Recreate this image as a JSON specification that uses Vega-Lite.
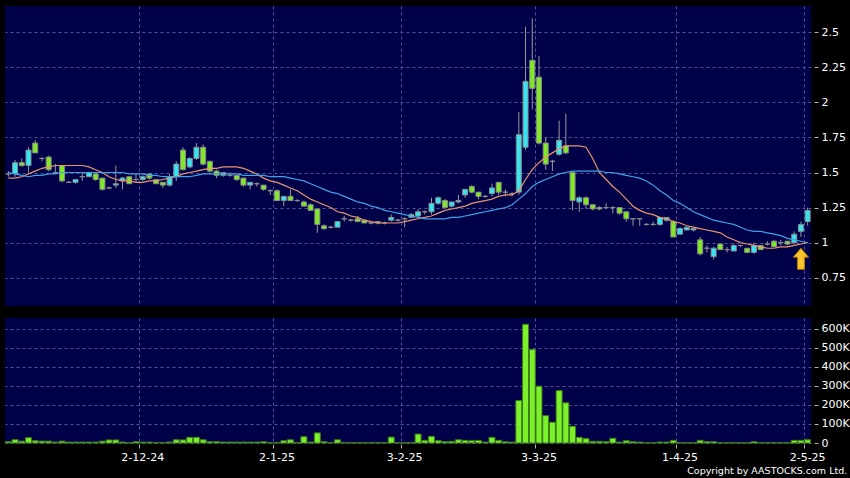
{
 "$schema": "https://vega.github.io/schema/vega-lite/v6.json",
 "background": "#000000",
 "padding": {"left": 4, "top": 6, "right": 2, "bottom": 2},
 "config": {
  "view": {"fill": "#000048", "stroke": null},
  "font": "DejaVu Sans",
  "axis": {"labelFont": "DejaVu Sans", "labelFontSize": 11, "labelColor": "#ffffff", "tickColor": "#b0b0b0", "domain": false, "gridColor": "#545490", "gridDash": [3, 3], "gridWidth": 1, "title": null},
  "concat": {"spacing": 12}
 },
 "title": {"text": "Copyright by AASTOCKS.com Ltd.", "orient": "bottom", "anchor": "end", "color": "#ffffff", "fontSize": 9.5, "fontWeight": "normal", "font": "DejaVu Sans", "offset": 4, "dx": -2},
 "datasets": {
  "k": [
   {"d":"4-11-24","o":1.49,"h":1.51,"l":1.47,"c":1.49,"v":7000,"m1":1.46,"m2":1.50},
   {"d":"5-11-24","o":1.49,"h":1.59,"l":1.47,"c":1.57,"v":17500,"m1":1.46,"m2":1.49},
   {"d":"6-11-24","o":1.57,"h":1.60,"l":1.54,"c":1.55,"v":10000,"m1":1.47,"m2":1.48},
   {"d":"7-11-24","o":1.55,"h":1.68,"l":1.50,"c":1.66,"v":28000,"m1":1.49,"m2":1.47},
   {"d":"8-11-24","o":1.71,"h":1.73,"l":1.64,"c":1.64,"v":12000,"m1":1.51,"m2":1.48},
   {"d":"11-11-24","o":1.60,"h":1.61,"l":1.58,"c":1.60,"v":10000,"m1":1.53,"m2":1.48},
   {"d":"12-11-24","o":1.61,"h":1.62,"l":1.51,"c":1.52,"v":10000,"m1":1.54,"m2":1.49},
   {"d":"13-11-24","o":1.50,"h":1.56,"l":1.49,"c":1.50,"v":5000,"m1":1.55,"m2":1.49},
   {"d":"14-11-24","o":1.55,"h":1.55,"l":1.43,"c":1.44,"v":10000,"m1":1.55,"m2":1.50},
   {"d":"15-11-24","o":1.43,"h":1.44,"l":1.43,"c":1.43,"v":5000,"m1":1.55,"m2":1.50},
   {"d":"18-11-24","o":1.43,"h":1.45,"l":1.42,"c":1.45,"v":5000,"m1":1.55,"m2":1.50},
   {"d":"19-11-24","o":1.47,"h":1.50,"l":1.44,"c":1.47,"v":5000,"m1":1.55,"m2":1.50},
   {"d":"20-11-24","o":1.47,"h":1.50,"l":1.47,"c":1.50,"v":5000,"m1":1.54,"m2":1.50},
   {"d":"21-11-24","o":1.49,"h":1.49,"l":1.44,"c":1.45,"v":5000,"m1":1.52,"m2":1.50},
   {"d":"22-11-24","o":1.46,"h":1.46,"l":1.37,"c":1.38,"v":10000,"m1":1.50,"m2":1.50},
   {"d":"25-11-24","o":1.39,"h":1.40,"l":1.38,"c":1.39,"v":16000,"m1":1.47,"m2":1.50},
   {"d":"26-11-24","o":1.41,"h":1.55,"l":1.39,"c":1.42,"v":16000,"m1":1.45,"m2":1.50},
   {"d":"27-11-24","o":1.44,"h":1.47,"l":1.38,"c":1.46,"v":5000,"m1":1.44,"m2":1.50},
   {"d":"28-11-24","o":1.47,"h":1.47,"l":1.42,"c":1.42,"v":2000,"m1":1.44,"m2":1.49},
   {"d":"29-11-24","o":1.45,"h":1.49,"l":1.43,"c":1.45,"v":7000,"m1":1.43,"m2":1.49},
   {"d":"2-12-24","o":1.45,"h":1.48,"l":1.44,"c":1.47,"v":5000,"m1":1.43,"m2":1.49},
   {"d":"3-12-24","o":1.49,"h":1.49,"l":1.45,"c":1.46,"v":5000,"m1":1.44,"m2":1.48},
   {"d":"4-12-24","o":1.45,"h":1.45,"l":1.42,"c":1.42,"v":3000,"m1":1.44,"m2":1.48},
   {"d":"5-12-24","o":1.43,"h":1.43,"l":1.39,"c":1.41,"v":3000,"m1":1.45,"m2":1.47},
   {"d":"6-12-24","o":1.41,"h":1.49,"l":1.40,"c":1.47,"v":5000,"m1":1.46,"m2":1.47},
   {"d":"9-12-24","o":1.47,"h":1.58,"l":1.44,"c":1.56,"v":17000,"m1":1.47,"m2":1.47},
   {"d":"10-12-24","o":1.66,"h":1.68,"l":1.52,"c":1.52,"v":16000,"m1":1.49,"m2":1.47},
   {"d":"11-12-24","o":1.54,"h":1.61,"l":1.53,"c":1.60,"v":30000,"m1":1.50,"m2":1.47},
   {"d":"12-12-24","o":1.60,"h":1.71,"l":1.59,"c":1.68,"v":30000,"m1":1.51,"m2":1.48},
   {"d":"13-12-24","o":1.68,"h":1.70,"l":1.55,"c":1.56,"v":17000,"m1":1.52,"m2":1.49},
   {"d":"16-12-24","o":1.58,"h":1.58,"l":1.50,"c":1.51,"v":7000,"m1":1.53,"m2":1.49},
   {"d":"17-12-24","o":1.51,"h":1.52,"l":1.46,"c":1.48,"v":7000,"m1":1.53,"m2":1.49},
   {"d":"18-12-24","o":1.48,"h":1.50,"l":1.47,"c":1.50,"v":5000,"m1":1.54,"m2":1.49},
   {"d":"19-12-24","o":1.48,"h":1.50,"l":1.47,"c":1.48,"v":5000,"m1":1.54,"m2":1.49},
   {"d":"20-12-24","o":1.48,"h":1.48,"l":1.44,"c":1.45,"v":5000,"m1":1.54,"m2":1.49},
   {"d":"23-12-24","o":1.46,"h":1.46,"l":1.40,"c":1.41,"v":5000,"m1":1.53,"m2":1.48},
   {"d":"24-12-24","o":1.41,"h":1.43,"l":1.38,"c":1.43,"v":5000,"m1":1.51,"m2":1.48},
   {"d":"27-12-24","o":1.42,"h":1.43,"l":1.40,"c":1.42,"v":5000,"m1":1.49,"m2":1.48},
   {"d":"30-12-24","o":1.41,"h":1.41,"l":1.37,"c":1.38,"v":7000,"m1":1.46,"m2":1.48},
   {"d":"31-12-24","o":1.37,"h":1.38,"l":1.34,"c":1.37,"v":2000,"m1":1.44,"m2":1.47},
   {"d":"2-1-25","o":1.37,"h":1.38,"l":1.30,"c":1.30,"v":3000,"m1":1.43,"m2":1.47},
   {"d":"3-1-25","o":1.30,"h":1.33,"l":1.26,"c":1.33,"v":12000,"m1":1.41,"m2":1.47},
   {"d":"6-1-25","o":1.33,"h":1.38,"l":1.30,"c":1.30,"v":17000,"m1":1.39,"m2":1.46},
   {"d":"7-1-25","o":1.30,"h":1.31,"l":1.29,"c":1.30,"v":3000,"m1":1.37,"m2":1.45},
   {"d":"8-1-25","o":1.29,"h":1.30,"l":1.26,"c":1.26,"v":33000,"m1":1.34,"m2":1.44},
   {"d":"9-1-25","o":1.27,"h":1.28,"l":1.23,"c":1.23,"v":5000,"m1":1.31,"m2":1.42},
   {"d":"10-1-25","o":1.24,"h":1.24,"l":1.07,"c":1.13,"v":53000,"m1":1.29,"m2":1.40},
   {"d":"13-1-25","o":1.12,"h":1.13,"l":1.09,"c":1.10,"v":7000,"m1":1.27,"m2":1.38},
   {"d":"14-1-25","o":1.11,"h":1.12,"l":1.10,"c":1.11,"v":3000,"m1":1.25,"m2":1.36},
   {"d":"15-1-25","o":1.11,"h":1.15,"l":1.11,"c":1.15,"v":17000,"m1":1.22,"m2":1.35},
   {"d":"16-1-25","o":1.17,"h":1.19,"l":1.15,"c":1.17,"v":3000,"m1":1.21,"m2":1.33},
   {"d":"17-1-25","o":1.16,"h":1.17,"l":1.15,"c":1.16,"v":2000,"m1":1.19,"m2":1.31},
   {"d":"20-1-25","o":1.17,"h":1.19,"l":1.15,"c":1.15,"v":3000,"m1":1.18,"m2":1.29},
   {"d":"21-1-25","o":1.16,"h":1.16,"l":1.14,"c":1.14,"v":3000,"m1":1.16,"m2":1.28},
   {"d":"22-1-25","o":1.14,"h":1.15,"l":1.13,"c":1.14,"v":2000,"m1":1.15,"m2":1.26},
   {"d":"23-1-25","o":1.15,"h":1.15,"l":1.13,"c":1.14,"v":3000,"m1":1.14,"m2":1.25},
   {"d":"24-1-25","o":1.14,"h":1.15,"l":1.13,"c":1.14,"v":2000,"m1":1.14,"m2":1.23},
   {"d":"27-1-25","o":1.16,"h":1.20,"l":1.15,"c":1.18,"v":31000,"m1":1.14,"m2":1.22},
   {"d":"28-1-25","o":1.16,"h":1.17,"l":1.15,"c":1.16,"v":2000,"m1":1.14,"m2":1.21},
   {"d":"3-2-25","o":1.17,"h":1.18,"l":1.11,"c":1.17,"v":2000,"m1":1.15,"m2":1.20},
   {"d":"4-2-25","o":1.18,"h":1.21,"l":1.18,"c":1.20,"v":3000,"m1":1.16,"m2":1.19},
   {"d":"5-2-25","o":1.19,"h":1.24,"l":1.18,"c":1.22,"v":47000,"m1":1.17,"m2":1.18},
   {"d":"6-2-25","o":1.22,"h":1.23,"l":1.20,"c":1.22,"v":14000,"m1":1.18,"m2":1.17},
   {"d":"7-2-25","o":1.22,"h":1.32,"l":1.20,"c":1.28,"v":35000,"m1":1.19,"m2":1.17},
   {"d":"10-2-25","o":1.28,"h":1.33,"l":1.27,"c":1.32,"v":12000,"m1":1.21,"m2":1.17},
   {"d":"11-2-25","o":1.30,"h":1.31,"l":1.25,"c":1.25,"v":7000,"m1":1.23,"m2":1.17},
   {"d":"12-2-25","o":1.26,"h":1.29,"l":1.25,"c":1.29,"v":9000,"m1":1.24,"m2":1.18},
   {"d":"13-2-25","o":1.29,"h":1.34,"l":1.28,"c":1.30,"v":17000,"m1":1.25,"m2":1.18},
   {"d":"14-2-25","o":1.34,"h":1.38,"l":1.32,"c":1.38,"v":14000,"m1":1.26,"m2":1.19},
   {"d":"17-2-25","o":1.40,"h":1.41,"l":1.35,"c":1.36,"v":12000,"m1":1.28,"m2":1.20},
   {"d":"18-2-25","o":1.36,"h":1.36,"l":1.31,"c":1.33,"v":14000,"m1":1.29,"m2":1.21},
   {"d":"19-2-25","o":1.33,"h":1.34,"l":1.32,"c":1.33,"v":5000,"m1":1.30,"m2":1.22},
   {"d":"20-2-25","o":1.35,"h":1.42,"l":1.33,"c":1.39,"v":30000,"m1":1.31,"m2":1.23},
   {"d":"21-2-25","o":1.43,"h":1.43,"l":1.34,"c":1.36,"v":14000,"m1":1.33,"m2":1.24},
   {"d":"24-2-25","o":1.36,"h":1.38,"l":1.33,"c":1.36,"v":7000,"m1":1.34,"m2":1.25},
   {"d":"25-2-25","o":1.35,"h":1.36,"l":1.33,"c":1.35,"v":5000,"m1":1.34,"m2":1.27},
   {"d":"26-2-25","o":1.36,"h":1.93,"l":1.34,"c":1.77,"v":223000,"m1":1.37,"m2":1.31},
   {"d":"27-2-25","o":1.68,"h":2.54,"l":1.66,"c":2.15,"v":623000,"m1":1.45,"m2":1.35},
   {"d":"28-2-25","o":2.30,"h":2.60,"l":1.95,"c":2.10,"v":491000,"m1":1.52,"m2":1.40},
   {"d":"3-3-25","o":2.18,"h":2.33,"l":1.70,"c":1.71,"v":298000,"m1":1.57,"m2":1.43},
   {"d":"4-3-25","o":1.71,"h":1.75,"l":1.52,"c":1.56,"v":144000,"m1":1.61,"m2":1.45},
   {"d":"5-3-25","o":1.58,"h":1.59,"l":1.51,"c":1.58,"v":109000,"m1":1.64,"m2":1.47},
   {"d":"6-3-25","o":1.63,"h":1.87,"l":1.62,"c":1.73,"v":275000,"m1":1.67,"m2":1.49},
   {"d":"7-3-25","o":1.69,"h":1.92,"l":1.63,"c":1.64,"v":211000,"m1":1.69,"m2":1.50},
   {"d":"10-3-25","o":1.50,"h":1.50,"l":1.23,"c":1.30,"v":88000,"m1":1.69,"m2":1.51},
   {"d":"11-3-25","o":1.29,"h":1.33,"l":1.22,"c":1.32,"v":30000,"m1":1.69,"m2":1.51},
   {"d":"12-3-25","o":1.32,"h":1.33,"l":1.24,"c":1.27,"v":23000,"m1":1.68,"m2":1.51},
   {"d":"13-3-25","o":1.27,"h":1.27,"l":1.23,"c":1.24,"v":9000,"m1":1.60,"m2":1.51},
   {"d":"14-3-25","o":1.25,"h":1.26,"l":1.23,"c":1.24,"v":9000,"m1":1.50,"m2":1.51},
   {"d":"17-3-25","o":1.25,"h":1.28,"l":1.24,"c":1.25,"v":7000,"m1":1.45,"m2":1.50},
   {"d":"18-3-25","o":1.25,"h":1.26,"l":1.21,"c":1.25,"v":25000,"m1":1.40,"m2":1.50},
   {"d":"19-3-25","o":1.25,"h":1.25,"l":1.20,"c":1.21,"v":5000,"m1":1.36,"m2":1.49},
   {"d":"20-3-25","o":1.22,"h":1.22,"l":1.15,"c":1.17,"v":12000,"m1":1.31,"m2":1.48},
   {"d":"21-3-25","o":1.17,"h":1.17,"l":1.12,"c":1.17,"v":7000,"m1":1.26,"m2":1.47},
   {"d":"24-3-25","o":1.17,"h":1.17,"l":1.12,"c":1.17,"v":5000,"m1":1.23,"m2":1.46},
   {"d":"25-3-25","o":1.13,"h":1.14,"l":1.12,"c":1.13,"v":2000,"m1":1.21,"m2":1.44},
   {"d":"26-3-25","o":1.13,"h":1.15,"l":1.12,"c":1.13,"v":2000,"m1":1.20,"m2":1.41},
   {"d":"27-3-25","o":1.13,"h":1.18,"l":1.12,"c":1.18,"v":5000,"m1":1.18,"m2":1.37},
   {"d":"28-3-25","o":1.16,"h":1.18,"l":1.15,"c":1.18,"v":5000,"m1":1.17,"m2":1.34},
   {"d":"31-3-25","o":1.15,"h":1.16,"l":1.04,"c":1.04,"v":14000,"m1":1.15,"m2":1.30},
   {"d":"1-4-25","o":1.06,"h":1.11,"l":1.06,"c":1.10,"v":2000,"m1":1.14,"m2":1.28},
   {"d":"2-4-25","o":1.09,"h":1.11,"l":1.09,"c":1.11,"v":2000,"m1":1.12,"m2":1.25},
   {"d":"3-4-25","o":1.09,"h":1.10,"l":1.08,"c":1.10,"v":2000,"m1":1.11,"m2":1.22},
   {"d":"7-4-25","o":1.02,"h":1.04,"l":0.91,"c":0.92,"v":14000,"m1":1.10,"m2":1.20},
   {"d":"8-4-25","o":0.96,"h":0.98,"l":0.93,"c":0.96,"v":7000,"m1":1.09,"m2":1.18},
   {"d":"9-4-25","o":0.90,"h":0.97,"l":0.88,"c":0.96,"v":7000,"m1":1.08,"m2":1.16},
   {"d":"10-4-25","o":0.99,"h":0.99,"l":0.95,"c":0.95,"v":2000,"m1":1.07,"m2":1.15},
   {"d":"11-4-25","o":0.95,"h":0.97,"l":0.93,"c":0.95,"v":2000,"m1":1.04,"m2":1.14},
   {"d":"14-4-25","o":0.94,"h":0.99,"l":0.94,"c":0.98,"v":2000,"m1":1.02,"m2":1.13},
   {"d":"15-4-25","o":0.98,"h":0.98,"l":0.97,"c":0.98,"v":2000,"m1":1.00,"m2":1.11},
   {"d":"16-4-25","o":0.96,"h":0.96,"l":0.93,"c":0.93,"v":2000,"m1":0.99,"m2":1.09},
   {"d":"17-4-25","o":0.93,"h":1.00,"l":0.92,"c":0.98,"v":7000,"m1":0.98,"m2":1.08},
   {"d":"22-4-25","o":0.98,"h":0.98,"l":0.95,"c":0.95,"v":2000,"m1":0.97,"m2":1.08},
   {"d":"23-4-25","o":0.99,"h":1.01,"l":0.98,"c":0.99,"v":3000,"m1":0.96,"m2":1.07},
   {"d":"24-4-25","o":1.01,"h":1.02,"l":0.97,"c":0.97,"v":3000,"m1":0.96,"m2":1.06},
   {"d":"25-4-25","o":1.00,"h":1.02,"l":0.98,"c":1.00,"v":2000,"m1":0.97,"m2":1.05},
   {"d":"28-4-25","o":1.01,"h":1.01,"l":0.98,"c":0.99,"v":2000,"m1":0.97,"m2":1.03},
   {"d":"29-4-25","o":1.00,"h":1.08,"l":0.99,"c":1.06,"v":14000,"m1":0.98,"m2":1.02},
   {"d":"30-4-25","o":1.08,"h":1.15,"l":1.04,"c":1.13,"v":14000,"m1":0.99,"m2":1.01},
   {"d":"2-5-25","o":1.15,"h":1.25,"l":1.12,"c":1.23,"v":17000,"m1":1.00,"m2":1.00}
  ]
 },
 "vconcat": [
  {
   "width": 806,
   "height": 300,
   "data": {"name": "k"},
   "encoding": {
    "x": {"field": "d", "type": "ordinal", "sort": null,
     "scale": {"paddingInner": 0, "paddingOuter": 0},
     "axis": {"labels": false, "ticks": false, "grid": true, "bandPosition": 0,
      "values": ["2-12-24", "2-1-25", "3-2-25", "3-3-25", "1-4-25", "2-5-25"]}}
   },
   "layer": [
    {
     "mark": {"type": "rule", "color": "#9a9a9a", "strokeWidth": 1},
     "encoding": {
      "y": {"field": "l", "type": "quantitative",
       "scale": {"domain": [0.548, 2.6875], "nice": false, "zero": false},
       "axis": {"orient": "right", "values": [0.75, 1, 1.25, 1.5, 1.75, 2, 2.25, 2.5], "labelExpr": "toString(datum.value)", "offset": 3, "tickSize": 4, "labelPadding": 3, "grid": true}},
      "y2": {"field": "h"}
     }
    },
    {
     "mark": {"type": "bar", "width": 5, "stroke": "#8a8a8a", "strokeWidth": 1},
     "encoding": {
      "y": {"field": "o", "type": "quantitative"},
      "y2": {"field": "c"},
      "fill": {"condition": [{"test": "datum.c > datum.o", "value": "#35e6f2"}, {"test": "datum.c < datum.o", "value": "#80ea26"}], "value": "#9a9a9a"}
     }
    },
    {
     "mark": {"type": "line", "color": "#e8946a", "strokeWidth": 1.2},
     "encoding": {"y": {"field": "m1", "type": "quantitative"}}
    },
    {
     "mark": {"type": "line", "color": "#3ea2e8", "strokeWidth": 1.2},
     "encoding": {"y": {"field": "m2", "type": "quantitative"}}
    },
    {
     "mark": {"type": "point", "filled": true, "shape": "M0,-1 L0.72,-0.15 L0.33,-0.15 L0.33,1 L-0.33,1 L-0.33,-0.15 L-0.72,-0.15 Z", "fill": "#f7c52a", "stroke": "#b87a00", "strokeWidth": 1},
     "encoding": {
      "y": {"datum": 0.885, "type": "quantitative"},
      "size": {"condition": {"test": "datum.d == '30-4-25'", "value": 441}, "value": 0},
      "opacity": {"condition": {"test": "datum.d == '30-4-25'", "value": 1}, "value": 0}
     }
    }
   ]
  },
  {
   "width": 806,
   "height": 125,
   "data": {"name": "k"},
   "mark": {"type": "bar", "width": 6, "fill": "#7cf02a", "stroke": "#3b7a18", "strokeWidth": 1},
   "encoding": {
    "x": {"field": "d", "type": "ordinal", "sort": null,
     "scale": {"paddingInner": 0, "paddingOuter": 0},
     "axis": {"labels": true, "ticks": true, "tickSize": 4, "offset": 1, "labelPadding": 3, "labelAngle": 0, "grid": true, "bandPosition": 0,
      "values": ["2-12-24", "2-1-25", "3-2-25", "3-3-25", "1-4-25", "2-5-25"]}},
    "y": {"field": "v", "type": "quantitative",
     "scale": {"domain": [0, 656000], "nice": false},
     "axis": {"orient": "right", "values": [0, 100000, 200000, 300000, 400000, 500000, 600000], "labelExpr": "datum.value == 0 ? '0' : (datum.value / 1000) + 'K'", "offset": 3, "tickSize": 4, "labelPadding": 3, "grid": true}}
   }
  }
 ]
}
